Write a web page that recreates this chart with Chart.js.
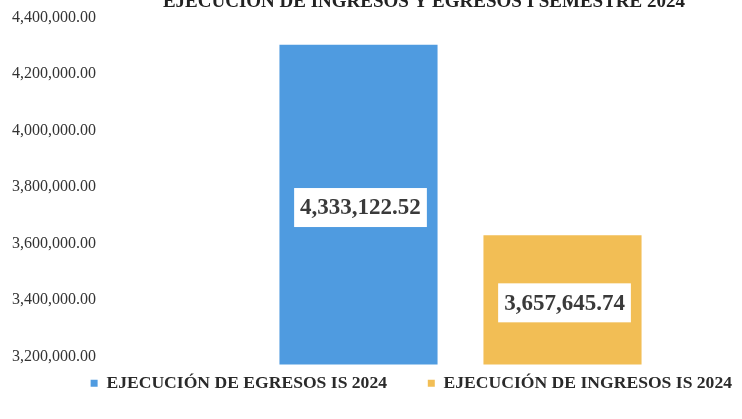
<!DOCTYPE html>
<html>
<head>
<meta charset="utf-8">
<script src="https://cdn.jsdelivr.net/npm/chart.js@4/dist/chart.umd.min.js"></script>
<style>
  html, body { margin: 0; padding: 0; background: #ffffff; overflow: hidden; width: 742px; height: 419px; }
  #wrap { position: absolute; left: 0; top: -22px; width: 742px; height: 424px; }
  canvas { display: block; }
</style>
</head>
<body>
<div id="wrap"><canvas id="c" width="742" height="424"></canvas></div>
<script>
const categories = ["I SEMESTRE 2024"];
const seriesNames = ["EJECUCIÓN DE EGRESOS IS 2024", "EJECUCIÓN DE INGRESOS IS 2024"];
const egresos = [4333122.52];
const ingresos = [3657645.74];
const seriesColors = ["#4f9be0", "#f2be55"];
const yTicks = [3200000, 3400000, 3600000, 3800000, 4000000, 4200000, 4400000];
const chartTitle = "EJECUCIÓN DE INGRESOS Y EGRESOS I SEMESTRE 2024";

const fmt = v => Number(v).toLocaleString('en-US', { minimumFractionDigits: 2, maximumFractionDigits: 2 });

const valueBoxes = {
  id: 'valueBoxes',
  afterDraw(chart) {
    const ctx = chart.ctx;
    const yScale = chart.scales.y;
    ctx.save();
    ctx.font = 'bold 23px "Liberation Serif", "Times New Roman", serif';
    ctx.textAlign = 'center';
    ctx.textBaseline = 'middle';
    chart.data.datasets.forEach((ds, i) => {
      const meta = chart.getDatasetMeta(i);
      meta.data.forEach((bar, j) => {
        const txt = fmt(ds.data[j]);
        const p = bar.getProps(['x'], true);
        const cx = p.x + 2;
        const top = yScale.getPixelForValue(ds.data[j]);
        const bottom = yScale.bottom;
        const cy = (top + bottom) / 2 + 3;
        const w = ctx.measureText(txt).width + 12;
        const h = 39;
        ctx.fillStyle = '#ffffff';
        ctx.fillRect(cx - w / 2, cy - h / 2, w, h);
        ctx.fillStyle = '#3a3a3a';
        ctx.fillText(txt, cx, cy + 1);
      });
    });
    ctx.restore();
  }
};

new Chart(document.getElementById('c'), {
  type: 'bar',
  data: {
    labels: categories,
    datasets: [
      { label: seriesNames[0], data: egresos, backgroundColor: seriesColors[0], borderWidth: 0 },
      { label: seriesNames[1], data: ingresos, backgroundColor: seriesColors[1], borderWidth: 0 }
    ]
  },
  options: {
    responsive: false,
    animation: false,
    devicePixelRatio: 1,
    categoryPercentage: 0.7247,
    barPercentage: 0.775,
    layout: { padding: { left: 12, right: 0, top: 0, bottom: 0 } },
    plugins: {
      tooltip: { enabled: false },
      title: {
        display: true,
        text: chartTitle + '\u2002\u2002\u2002\u2002\u2002\u2002',
        align: 'end',
        color: '#222222',
        font: { family: '"Liberation Serif", "Times New Roman", serif', size: 19, weight: 'bold' },
        padding: { top: 13, bottom: 12 }
      },
      legend: {
        display: true,
        position: 'bottom',
        align: 'end',
        labels: {
          boxWidth: 7,
          boxHeight: 7,
          padding: 10,
          color: '#2a2a2a',
          font: { family: '"Liberation Serif", "Times New Roman", serif', size: 17.6, weight: 'bold' },
          generateLabels(chart) {
            const items = Chart.defaults.plugins.legend.labels.generateLabels(chart);
            items[0].text = items[0].text + '\u00a0\u00a0\u00a0\u00a0\u00a0\u00a0\u00a0';
            items.forEach(it => { it.lineWidth = 0; it.strokeStyle = 'rgba(0,0,0,0)'; });
            return items;
          }
        }
      }
    },
    scales: {
      x: { display: false },
      y: {
        min: 3200000,
        max: 4400000,
        afterFit(scale) { scale.width = 167; },
        grid: { display: false },
        border: { display: false },
        ticks: {
          stepSize: 200000,
          crossAlign: 'far',
          labelOffset: -8,
          color: '#333333',
          font: { family: '"Liberation Serif", "Times New Roman", serif', size: 16 },
          callback: v => fmt(v)
        }
      }
    }
  },
  plugins: [valueBoxes]
});
</script>
</body>
</html>
